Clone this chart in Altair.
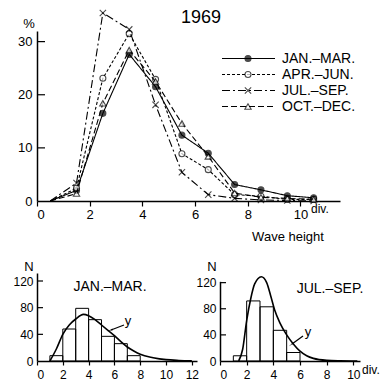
import altair as alt
import pandas as pd

FONT = "Liberation Sans"

# ---------------- data ----------------
wave_mid = [0.5, 1.5, 2.5, 3.5, 4.5, 5.5, 6.5, 7.5, 8.5, 9.5, 10.5]
series_names = ["JAN.–MAR.", "APR.–JUN.", "JUL.–SEP.", "OCT.–DEC."]
jan_mar = [0, 2.0, 16.5, 27.6, 21.5, 12.4, 9.0, 3.1, 2.1, 1.0, 0.6]
apr_jun = [0, 2.4, 23.1, 31.5, 22.9, 8.9, 5.9, 1.2, 0.9, 0.3, 0.3]
jul_sep = [0, 3.4, 35.4, 32.3, 18.1, 5.4, 1.2, 0.5, 0.2, 0.1, 0.0]
oct_dec = [0, 1.4, 18.4, 28.4, 22.5, 14.6, 8.4, 1.5, 0.7, 0.5, 0.3]
series_values = [jan_mar, apr_jun, jul_sep, oct_dec]

main_x_ticks = [0, 2, 4, 6, 8, 10]
main_y_ticks = [0, 10, 20, 30]

# histograms (bin start, bin end, count)
jan_bin_start = [1, 2, 3, 4, 5, 6, 7]
jan_bin_end = [2, 3, 4, 5, 6, 7, 8]
jan_counts = [8, 48, 79, 62, 37, 26, 8]
jan_curve_x = [1.0, 1.5, 2.0, 2.5, 3.0, 3.6, 4.0, 4.5, 5.0, 5.5, 6.0, 6.5, 7.0, 7.5, 8.0, 9.0, 10.0, 11.0, 12.0]
jan_curve_y = [0, 18, 40, 54, 63, 70, 68, 62, 54, 46, 38, 29, 21, 15, 10, 5, 2, 0.8, 0.2]

jul_bin_start = [1, 2, 3, 4, 5]
jul_bin_end = [2, 3, 4, 5, 6]
jul_counts = [8, 92, 83, 47, 13]
jul_curve_x = [1.4, 1.7, 2.0, 2.3, 2.6, 3.1, 3.5, 3.8, 4.1, 4.5, 5.0, 5.5, 6.0, 6.5, 7.0, 8.0, 9.0, 10.3]
jul_curve_y = [0, 18, 62, 95, 118, 129, 120, 100, 78, 58, 40, 26, 15, 8, 4, 1, 0.3, 0]

hist_y_ticks = [0, 40, 80, 120]
left_x_ticks = [0, 2, 4, 6, 8, 10, 12]
right_x_ticks = [0, 2, 4, 6, 8, 10]

# ---------------- styles ----------------
dashes = [[1, 0], [3, 2], [8, 3, 2, 3], [6, 3]]
X_PATH = "M-1,-1L1,1M-1,1L1,-1"
markers = [
    dict(shape="circle", filled=True, fill="black", stroke="black", size=36),
    dict(shape="circle", filled=True, fill="white", stroke="black", size=36),
    dict(shape=X_PATH, filled=False, stroke="black", size=40),
    dict(shape="triangle-up", filled=True, fill="white", stroke="black", size=40),
]

dummy = pd.DataFrame({"a": [0]})


def txt(x, y, s, size=13, align="center", baseline="middle"):
    return alt.Chart(dummy).mark_text(
        text=s, font=FONT, fontSize=size, align=align, baseline=baseline, color="black"
    ).encode(x=alt.value(x), y=alt.value(y))


# ---------------- main chart ----------------
MW, MH = 303, 170
mxs = alt.Scale(domain=[0, 11.5], nice=False, zero=False)
mys = alt.Scale(domain=[0, 32], nice=False)
mx_axis = alt.Axis(values=main_x_ticks, tickSize=5, tickWidth=1.2, domainWidth=1.5,
                   domainColor="black", tickColor="black", labelFont=FONT, labelFontSize=13,
                   labelPadding=2, grid=False, title=None, labelColor="black")
my_axis = alt.Axis(values=main_y_ticks, ticks=False, tickSize=0, domainWidth=1.5,
                   domainColor="black", labelFont=FONT, labelFontSize=13, labelPadding=5,
                   grid=False, title=None, labelColor="black")

main_layers = []
for i, (name, vals) in enumerate(zip(series_names, series_values)):
    df = pd.DataFrame({"x": wave_mid, "y": vals})
    line = alt.Chart(df).mark_line(color="black", strokeWidth=1.1, strokeDash=dashes[i]).encode(
        x=alt.X("x:Q", scale=mxs, axis=mx_axis), y=alt.Y("y:Q", scale=mys, axis=my_axis))
    pts = alt.Chart(df).transform_filter("datum.x > 1").mark_point(strokeWidth=1.1, **markers[i]).encode(
        x=alt.X("x:Q", scale=mxs, axis=mx_axis), y=alt.Y("y:Q", scale=mys, axis=my_axis))
    main_layers += [line, pts]

mtick_df = pd.DataFrame({"t": main_y_ticks[1:]})
main_layers.append(alt.Chart(mtick_df).mark_rule(color="black", strokeWidth=1.2).encode(
    y=alt.Y("t:Q", scale=mys, axis=my_axis), x=alt.value(0), x2=alt.value(8)))

# legend (manual)
leg_rows = [27.5, 43.5, 59.5, 75.5]
for i, name in enumerate(series_names):
    ry = leg_rows[i]
    main_layers.append(alt.Chart(dummy).mark_rule(color="black", strokeWidth=1.1, strokeDash=dashes[i]).encode(
        x=alt.value(185), x2=alt.value(238), y=alt.value(ry)))
    main_layers.append(alt.Chart(dummy).mark_point(strokeWidth=1.1, **markers[i]).encode(
        x=alt.value(211), y=alt.value(ry)))
    main_layers.append(txt(245, ry, name, size=14, align="left"))

main_layers += [
    txt(164, -13, "1969", size=18),
    txt(-8, -7, "%", size=13),
    txt(274, 178, "div.", size=12, align="left"),
    txt(251, 206, "Wave height", size=13),
]
main = alt.layer(*main_layers).properties(width=MW, height=MH)

# ---------------- histogram panels ----------------
HH = 88


def hist_panel(width, xmax, ymax_range_top, starts, ends, counts, cx, cy, xticks, label, label_xy,
               y_xy, arrow, arrow_angle, div_xy=None):
    xs = alt.Scale(domain=[0, xmax], nice=False, zero=False)
    ys = alt.Scale(domain=[0, ymax_range_top[0]], nice=False, range=[HH, ymax_range_top[1]])
    xa = alt.Axis(values=xticks, tickSize=4, tickWidth=1.2, domainWidth=1.5, domainColor="black",
                  tickColor="black", labelFont=FONT, labelFontSize=12, labelPadding=4, grid=False,
                  title=None, labelColor="black")
    ya = alt.Axis(values=hist_y_ticks, ticks=False, tickSize=0, domainWidth=1.5, domainColor="black",
                  labelFont=FONT, labelFontSize=12, labelPadding=4, grid=False, title=None,
                  labelColor="black")
    bdf = pd.DataFrame({"s": starts, "e": ends, "n": counts})
    bars = alt.Chart(bdf).mark_rect(fillOpacity=0, stroke="black", strokeWidth=1).encode(
        x=alt.X("s:Q", scale=xs, axis=xa), x2="e:Q",
        y=alt.Y("n:Q", scale=ys, axis=ya), y2=alt.datum(0))
    cdf = pd.DataFrame({"x": cx, "y": cy})
    curve = alt.Chart(cdf).mark_line(color="black", strokeWidth=1.6, interpolate="monotone").encode(
        x=alt.X("x:Q", scale=xs, axis=xa), y=alt.Y("y:Q", scale=ys, axis=ya))
    tdf = pd.DataFrame({"t": hist_y_ticks[1:]})
    ticks = alt.Chart(tdf).mark_rule(color="black", strokeWidth=1.2).encode(
        y=alt.Y("t:Q", scale=ys, axis=ya), x=alt.value(0), x2=alt.value(6))
    (ax0, ay0), (ax1, ay1) = arrow
    arr_line = alt.Chart(dummy).mark_rule(color="black", strokeWidth=1.2).encode(
        x=alt.value(ax0), y=alt.value(ay0), x2=alt.value(ax1), y2=alt.value(ay1))
    arr_head = alt.Chart(dummy).mark_point(shape="wedge", filled=True, color="black", size=45,
                                           angle=arrow_angle).encode(x=alt.value(ax1), y=alt.value(ay1))
    layers = [
        bars, curve, ticks, arr_line, arr_head,
        txt(label_xy[0], label_xy[1], label, size=14),
        txt(y_xy[0], y_xy[1], "y", size=13),
        txt(-8, -6, "N", size=13),
    ]
    if div_xy is not None:
        layers.append(txt(div_xy[0], div_xy[1], "div.", size=12, align="left"))
    return alt.layer(*layers).properties(width=width, height=HH)


left = hist_panel(160, 12.4, (132, 0), jan_bin_start, jan_bin_end, jan_counts, jan_curve_x, jan_curve_y,
                  left_x_ticks, "JAN.–MAR.", (73, 14), (91, 48),
                  ((87, 52), (74, 57)), 250)
right = hist_panel(140, 10.5, (122, 88 - 122 * 0.653), jul_bin_start, jul_bin_end, jul_counts,
                   jul_curve_x, jul_curve_y, right_x_ticks, "JUL.–SEP.", (110, 16), (88, 59),
                   ((83, 63), (72, 71)), 235, (142, 97))

chart = alt.vconcat(
    main,
    alt.hconcat(left, right, spacing=23, bounds="flush"),
    spacing=72, bounds="flush",
).properties(padding={"left": 12, "top": 7, "right": 0, "bottom": 0}).configure_view(stroke=None)

chart.save("out.html", embed_options={"renderer": "svg", "actions": False})
